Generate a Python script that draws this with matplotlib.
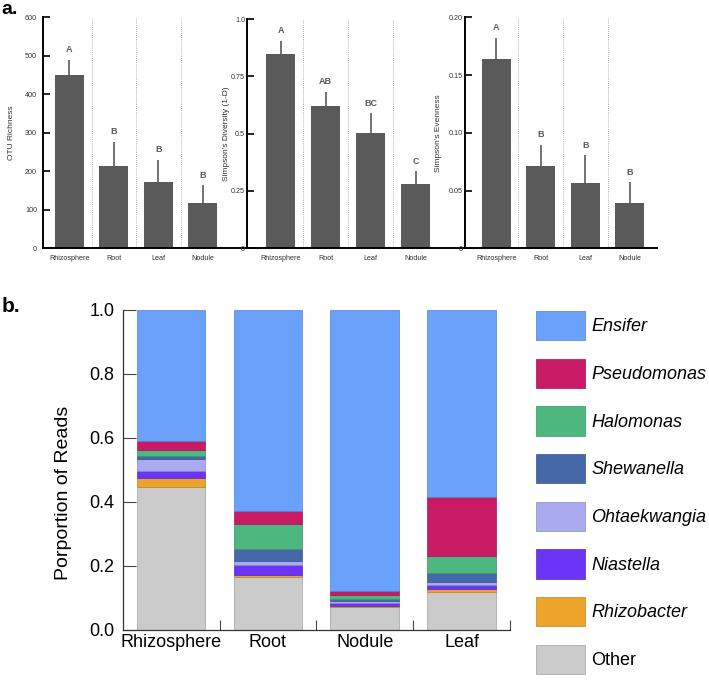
import numpy as np
import matplotlib
matplotlib.use("Agg")
import matplotlib.pyplot as plt
from matplotlib.patches import Patch
from matplotlib.colors import to_rgb

plt.rcParams['font.family'] = ['Liberation Sans', 'DejaVu Sans']

# ---- panel a data ----
sites_a = ["Rhizosphere", "Root", "Leaf", "Nodule"]
otu_mean = [449, 214, 171, 117]
otu_err = [40, 62, 59, 47]
otu_grp = ["A", "B", "B", "B"]
simp_mean = [0.847, 0.622, 0.503, 0.279]
simp_err = [0.059, 0.060, 0.086, 0.057]
simp_grp = ["A", "AB", "BC", "C"]
even_mean = [0.164, 0.0716, 0.0569, 0.039]
even_err = [0.0185, 0.0182, 0.0236, 0.0181]
even_grp = ["A", "B", "B", "B"]

# ---- panel b data ----
sites_b = ["Rhizosphere", "Root", "Nodule", "Leaf"]
taxa = ["Other", "Rhizobacter", "Niastella", "Ohtaekwangia",
        "Shewanella", "Halomonas", "Pseudomonas", "Ensifer"]
props = {
    "Other":        [0.446, 0.165, 0.072, 0.118],
    "Rhizobacter":  [0.029, 0.008, 0.004, 0.011],
    "Niastella":    [0.023, 0.030, 0.008, 0.012],
    "Ohtaekwangia": [0.036, 0.014, 0.008, 0.008],
    "Shewanella":   [0.010, 0.035, 0.006, 0.029],
    "Halomonas":    [0.020, 0.080, 0.011, 0.054],
    "Pseudomonas":  [0.028, 0.040, 0.012, 0.183],
    "Ensifer":      [0.408, 0.628, 0.879, 0.585],
}
colors = {
    "Other": "#cbcbcb", "Rhizobacter": "#eca42a", "Niastella": "#6b34f6",
    "Ohtaekwangia": "#aaaaf0", "Shewanella": "#4568a9", "Halomonas": "#4cb77f",
    "Pseudomonas": "#c91a65", "Ensifer": "#69a1fb",
}

W, H = 709, 680
fig = plt.figure(figsize=(W / 100, H / 100), dpi=100)


def px_axes(x0, y0, x1, y1):
    return fig.add_axes([x0 / W, 1 - y1 / H, (x1 - x0) / W, (y1 - y0) / H])


bar_grey = "#5a5a5a"


def panel_a(ax, means, errs, groups, xlim, yticks, yticklabels, ylabel, pad):
    x = np.arange(len(sites_a))
    ax.bar(x, means, width=0.65, color=bar_grey, zorder=2)
    ax.vlines(x, means, np.array(means) + np.array(errs), color=bar_grey, lw=1.2, zorder=2)
    for xi, m, e, g in zip(x, means, errs, groups):
        ax.annotate(g, (xi, m + e), xytext=(0, 4), textcoords="offset points",
                    ha="center", va="bottom", fontsize=6.5, fontweight="bold",
                    color=bar_grey)
    for xs in x[:-1] + 0.5:
        ax.axvline(xs, color="#9a9a9a", lw=0.6, ls=(0, (1, 1.5)), zorder=1)
    ax.set_xlim(*xlim)
    ax.set_ylim(yticks[0], yticks[-1])
    ax.set_yticks(yticks)
    ax.set_yticklabels(yticklabels)
    ax.set_xticks(x)
    ax.set_xticklabels(sites_a)
    ax.tick_params(axis="x", length=0, labelsize=5.2, pad=5, labelcolor="#333333")
    ax.tick_params(axis="y", direction="in", length=5, width=1.2, labelsize=5.2,
                   pad=pad, labelcolor="#333333")
    ax.set_ylabel(ylabel, fontsize=6, color="#333333")
    for s in ["top", "right"]:
        ax.spines[s].set_visible(False)
    for s in ["left", "bottom"]:
        ax.spines[s].set_linewidth(1.4)


ax1 = px_axes(42.7, 17.3, 247.3, 248.3)
panel_a(ax1, otu_mean, otu_err, otu_grp, (-0.6, 4.0),
        [0, 100, 200, 300, 400, 500, 600],
        ["0", "100", "200", "300", "400", "500", "600"], "OTU Richness", 4)
ax1.yaxis.set_label_coords(-0.135, 0.5)

ax2 = px_axes(247.3, 19, 465, 248.3)
panel_a(ax2, simp_mean, simp_err, simp_grp, (-0.74, 4.1),
        [0, 0.25, 0.5, 0.75, 1.0], ["0", "0.25", "0.5", "0.75", "1.0"],
        "Simpson's Diversity (1-D)", 1.5)
ax2.yaxis.set_label_coords(-0.08, 0.5)

ax3 = px_axes(465, 17.3, 656.7, 248.3)
panel_a(ax3, even_mean, even_err, even_grp, (-0.7, 3.6),
        [0, 0.05, 0.10, 0.15, 0.20], ["0", "0.05", "0.10", "0.15", "0.20"],
        "Simpson's Evenness", 1.5)
ax3.yaxis.set_label_coords(-0.12, 0.5)

fig.text(1 / W, 1 - 10 / H, "a.", fontsize=14, fontweight="bold", va="center", ha="left")

# ---- panel b ----
axb = px_axes(122.7, 310, 510, 630)
xb = np.arange(len(sites_b))
bottom = np.zeros(len(sites_b))
for t in taxa:
    vals = np.array(props[t])
    edge = tuple(c * 0.8 for c in to_rgb(colors[t]))
    axb.bar(xb, vals, bottom=bottom, width=0.71, color=colors[t],
            edgecolor=edge, linewidth=0.5, zorder=2)
    bottom += vals

axb.set_xlim(-0.5, 3.5)
axb.set_ylim(0, 1)
axb.set_yticks([0, 0.2, 0.4, 0.6, 0.8, 1.0])
axb.set_yticklabels(["0.0", "0.2", "0.4", "0.6", "0.8", "1.0"])
axb.set_xticks(xb)
axb.set_xticklabels(sites_b)
axb.set_xticks(xb + 0.5, minor=True)
axb.tick_params(axis="x", which="major", length=0, labelsize=13, pad=3)
axb.tick_params(axis="x", which="minor", direction="in", length=7, width=0.8,
                color="#444444")
axb.tick_params(axis="y", direction="in", length=9, width=0.8, labelsize=13,
                pad=6, color="#444444")
for s in ["top", "right"]:
    axb.spines[s].set_visible(False)
for s in ["left", "bottom"]:
    axb.spines[s].set_linewidth(0.9)
    axb.spines[s].set_color("#333333")
axb.set_ylabel("Porportion of Reads", fontsize=14)
axb.yaxis.set_label_coords(-0.132, 0.428)

fig.text(2 / W, 1 - 307 / H, "b.", fontsize=15, fontweight="bold", va="center", ha="left")

handles = [Patch(facecolor=colors[t], edgecolor=tuple(c * 0.8 for c in to_rgb(colors[t])),
                 linewidth=0.5) for t in taxa[::-1]]
labels = taxa[::-1]
leg = fig.legend(handles, labels, loc="upper left",
                 bbox_to_anchor=(536 / W, 1 - 311 / H), frameon=False,
                 fontsize=13, handlelength=2.7, handleheight=2.13,
                 labelspacing=1.01, handletextpad=0.37, borderpad=0,
                 borderaxespad=0)
for txt in leg.get_texts():
    if txt.get_text() != "Other":
        txt.set_fontstyle("italic")

fig.savefig("out.png", dpi=100)
